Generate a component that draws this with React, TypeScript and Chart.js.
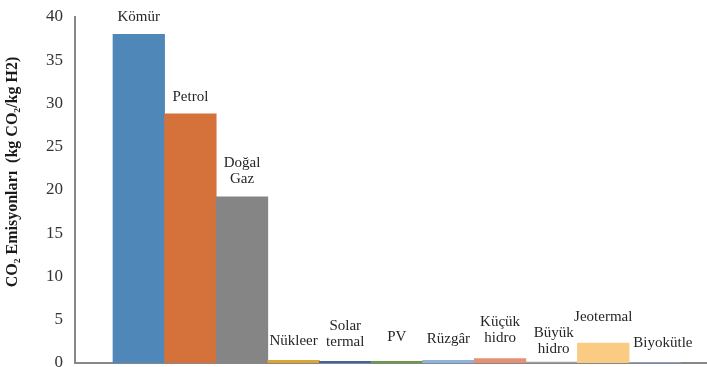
import React, { useEffect, useRef } from 'react';
import { Chart, registerables } from 'chart.js';

Chart.register(...registerables);

// ---- data ----
const sources = [
  'Kömür',
  'Petrol',
  'Doğal Gaz',
  'Nükleer',
  'Solar termal',
  'PV',
  'Rüzgâr',
  'Küçük hidro',
  'Büyük hidro',
  'Jeotermal',
  'Biyokütle',
];
const emissions = [38.0, 28.8, 19.2, 0.3, 0.2, 0.2, 0.3, 0.5, 0.1, 2.3, 0.05];
const yTickValues = [0, 5, 10, 15, 20, 25, 30, 35, 40];
const yTitle = 'CO₂ Emisyonları  (kg CO₂/kg H2)';

// ---- styles ----
const barColors = [
  '#4f87b9',
  '#d5713a',
  '#858585',
  '#dca431',
  '#3f64a4',
  '#6b9a47',
  '#8eb4de',
  '#e69076',
  '#a0a0a0',
  '#f9cb83',
  '#8aa9d6',
];
const labelGap = [13, 13, 14, 15, 15, 20, 17, 17, 9, 22, 16];
const labelShift = [0, 0, 0, 0, 0, 0, 0, 0, 2, 0, 8];
const LINE_H = 16;
const SERIF = '"Liberation Serif", "Times New Roman", serif';

const barLabelPlugin = {
  id: 'barLabels',
  afterDatasetsDraw(chart: any) {
    const ctx = chart.ctx;
    const meta = chart.getDatasetMeta(0);
    ctx.save();
    ctx.font = `15px ${SERIF}`;
    ctx.fillStyle = '#262626';
    ctx.textAlign = 'center';
    ctx.textBaseline = 'alphabetic';
    meta.data.forEach((bar: any, i: number) => {
      const lines = sources[i].split(' ');
      const baseY = bar.y - labelGap[i];
      lines.forEach((ln: string, j: number) => {
        ctx.fillText(ln, bar.x + labelShift[i], baseY - (lines.length - 1 - j) * LINE_H);
      });
    });
    const area = chart.chartArea;
    ctx.translate(13, (area.top + area.bottom) / 2 - 18);
    ctx.rotate(-Math.PI / 2);
    ctx.font = `bold 16px ${SERIF}`;
    ctx.fillStyle = '#1a1a1a';
    ctx.textBaseline = 'middle';
    ctx.fillText(yTitle, 0, 0);
    ctx.restore();
  },
};

export default function App() {
  const canvasRef = useRef<HTMLCanvasElement | null>(null);

  useEffect(() => {
    document.body.style.margin = '0';
    const canvas = canvasRef.current;
    if (!canvas) return;
    const chart = new Chart(canvas, {
      type: 'bar',
      data: {
        datasets: [
          {
            label: 'CO2',
            data: emissions.map((v, i) => ({ x: i, y: v })),
            backgroundColor: barColors,
            borderWidth: 0,
            barPercentage: 1,
            categoryPercentage: 1,
          },
        ],
      },
      options: {
        animation: false,
        responsive: true,
        maintainAspectRatio: false,
        layout: { padding: { top: 17, bottom: 4, left: 0, right: 0 } },
        plugins: {
          legend: { display: false },
          tooltip: { enabled: false },
        },
        scales: {
          x: {
            type: 'linear',
            offset: false,
            min: -1.236,
            max: 11.01,
            grid: { display: false, drawTicks: false },
            ticks: { display: false },
            border: { display: true, color: '#878787', width: 2 },
            afterFit: (scale: any) => {
              scale.height = 0;
              scale.paddingLeft = 0;
              scale.paddingRight = 0;
            },
          },
          y: {
            min: 0,
            max: 40,
            afterBuildTicks: (scale: any) => {
              scale.ticks = yTickValues.map((v) => ({ value: v }));
            },
            afterFit: (scale: any) => {
              scale.width = 75;
              scale.paddingTop = 0;
              scale.paddingBottom = 0;
            },
            grid: { display: false, drawTicks: false },
            border: { display: true, color: '#878787', width: 2 },
            ticks: {
              padding: 12,
              color: '#333333',
              font: { family: SERIF, size: 17 },
            },
          },
        },
      },
      plugins: [barLabelPlugin],
    });
    return () => chart.destroy();
  }, []);

  return (
    <div style={{ width: 707, height: 367, position: 'relative' }}>
      <canvas ref={canvasRef} />
    </div>
  );
}
